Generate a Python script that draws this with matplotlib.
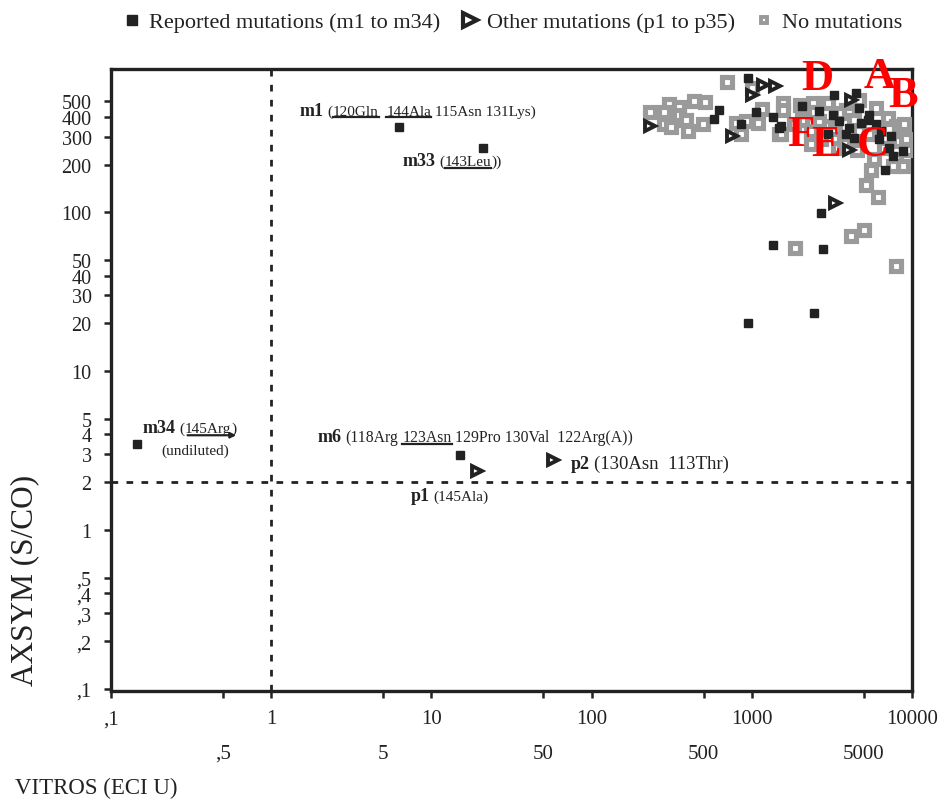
import matplotlib
matplotlib.use('Agg')
import matplotlib.pyplot as plt
import matplotlib.transforms as mtransforms
from matplotlib.lines import Line2D
from matplotlib.patches import FancyArrowPatch

SERIF = ['Liberation Serif', 'DejaVu Serif']
plt.rcParams['font.family'] = SERIF

# ---------------- data ----------------
# No mutations (grey open squares)
nomut_x = [700, 230, 303, 282, 350, 350, 435, 507, 282, 314, 390, 399, 495, 1005, 1161,
           800, 851, 923, 1090, 1561, 1474, 1561, 1985, 2403, 2979, 3881, 5970, 2644, 3612,
           4067, 7050, 4699, 7960, 8345, 9190, 7960, 8750, 7580, 5150, 3440, 3053, 2349,
           1525, 4371, 6110, 5000, 4170, 1866, 7910, 5420, 6730, 9360, 5820, 7230, 2720,
           3330, 2043, 3790, 4699, 2460, 2357, 5580, 8970, 4565, 1846]
nomut_y = [660, 428, 485, 428, 460, 413, 501, 494, 361, 344, 384, 325, 358, 609, 449,
           367, 310, 379, 367, 490, 310, 444, 478, 490, 490, 444, 455, 375, 424,
           424, 394, 325, 349, 281, 288, 216, 196, 196, 148, 255, 349, 325,
           310, 384, 125, 77, 71, 60, 46, 310, 256, 249, 216, 333, 288,
           333, 384, 268, 514, 432, 268, 186, 358, 249, 358]

# Reported mutations (black squares); first four are m1, m33, m34, m6
rep_x = [6.25, 20.9, 0.145, 15.0,
         944, 623, 577, 1055, 859, 1352, 1489, 3250, 4480, 2063, 2644, 3200, 4699, 3490,
         4067, 4817, 5290, 5970, 6420, 2979, 3881, 4371, 6260, 7410, 7230, 8750, 7580,
         6825, 1525, 5420, 2710, 2790, 1352, 2437, 950]
rep_y = [347, 256, 3.5, 2.96,
         703, 440, 388, 430, 361, 398, 341, 552, 566, 466, 434, 413, 455, 375,
         341, 367, 384, 358, 325, 310, 310, 295, 288, 302, 255, 243, 226,
         186, 349, 413, 99.6, 59, 62.6, 23.4, 20.0]

# Other mutations (open triangles); first two are p1, p2
other_x = [19.2, 57.1, 230, 1172, 1386, 1005, 755, 4170, 4067, 3330]
other_y = [2.35, 2.76, 349, 638, 623, 552, 305, 514, 249, 114]

# red cluster letters
letters = ['D', 'A', 'B', 'F', 'E', 'C']
letter_x = [2580, 6260, 8750, 2033, 2912, 5690]
letter_y = [703, 720, 552, 314, 268, 268]

# axis ticks
ytick_vals = [0.1, 0.2, 0.3, 0.4, 0.5, 1, 2, 3, 4, 5, 10, 20, 30, 40, 50, 100, 200, 300, 400, 500]
ytick_labels = [',1', ',2', ',3', ',4', ',5', '1', '2', '3', '4', '5', '10', '20', '30', '40', '50',
                '100', '200', '300', '400', '500']
xmajor_vals = [0.1, 1, 10, 100, 1000, 10000]
xmajor_labels = [',1', '1', '10', '100', '1000', '10000']
xminor_vals = [0.5, 5, 50, 500, 5000]
xminor_labels = [',5', '5', '50', '500', '5000']

# ---------------- figure ----------------
W, H = 942, 804
fig = plt.figure(figsize=(W / 100, H / 100), dpi=100)
ax = fig.add_axes([111 / W, 1 - 692 / H, 801 / W, 622 / H])
ax.set_xscale('log')
ax.set_yscale('log')
ax.set_xlim(0.1, 10000)
ax.set_ylim(0.097, 800)

K = '#222222'
GREY = '#9a9a9a'
for s in ax.spines.values():
    s.set_linewidth(2.4)
    s.set_color(K)

ax.set_yticks(ytick_vals)
ax.set_yticklabels(ytick_labels)
ax.yaxis.set_minor_locator(matplotlib.ticker.NullLocator())
ax.set_xticks(xmajor_vals)
ax.set_xticklabels(xmajor_labels)
ax.set_xticks(xminor_vals, minor=True)
ax.set_xticklabels(xminor_labels, minor=True)
ax.tick_params(axis='both', which='both', direction='out', length=5, width=1.8,
               color=K, labelsize=15, labelcolor='#222222')
ax.tick_params(axis='y', pad=9, labelsize=14.5)
ax.tick_params(axis='x', which='major', pad=8)
ax.tick_params(axis='x', which='minor', pad=33)

# reference lines
ax.axvline(1, color=K, lw=2, ls=(0, (2.4, 3.0)), zorder=1)
ax.axhline(2, color=K, lw=2, ls=(0, (2.4, 3.0)), zorder=1)

# points
ax.plot(nomut_x, nomut_y, 's', ls='none', ms=6.6, mfc='white', mec=GREY, mew=3.7, zorder=3)
ax.plot(rep_x, rep_y, 's', ls='none', ms=5.8, color=K, zorder=4)
ax.plot(other_x, other_y, '>', ls='none', ms=7.5, mfc='white', mec=K, mew=2.8, zorder=5)

for L, lx, ly in zip(letters, letter_x, letter_y):
    ax.text(lx, ly, L, color='#ff0000', fontsize=32, fontweight='bold', ha='center', va='center',
            clip_on=False, zorder=7)

# ---------------- rich annotations ----------------
renderer = fig.canvas.get_renderer()


def rich(x, y, pieces):
    """pieces: (text, size, weight, deco) with deco in {None, 'u', 'arrow'}"""
    dx = 0.0
    base = ax.transData.transform((x, y))
    for txt, size, weight, deco in pieces:
        lead = len(txt) - len(txt.lstrip(' '))
        trail = len(txt) - len(txt.rstrip(' '))
        core = txt.strip(' ')
        dx += lead * 0.25 * size * 100 / 72
        tr = ax.transData + mtransforms.ScaledTranslation(dx / 100, 0, fig.dpi_scale_trans)
        t = ax.text(x, y, core, transform=tr, fontsize=size, fontweight=weight, color=K,
                    ha='left', va='baseline', clip_on=False, zorder=6)
        bb = t.get_window_extent(renderer=renderer)
        if deco == 'u':
            fig.add_artist(Line2D([bb.x0 / W, bb.x1 / W], [(base[1] - 2.5) / H] * 2,
                                  color=K, lw=1.6, transform=fig.transFigure))
        elif deco == 'arrow':
            fig.add_artist(FancyArrowPatch((bb.x0 / W, (base[1] - 3) / H),
                                           ((bb.x1 + 8) / W, (base[1] - 3) / H),
                                           arrowstyle='-|>', mutation_scale=8, lw=1.6,
                                           color=K, transform=fig.transFigure))
        dx += bb.width + trail * 0.25 * size * 100 / 72


BS, RS = 13, 11
rich(1.51, 413, [('m1', BS, 'bold', None), (' (', RS, 'normal', None),
                 ('120Gln', RS, 'normal', 'u'), (' ', RS, 'normal', None),
                 ('144Ala', RS, 'normal', 'u'), (' 115Asn 131Lys)', RS, 'normal', None)])
rich(6.62, 198, [('m33', BS, 'bold', None), (' (', RS, 'normal', None),
                 ('143Leu', RS, 'normal', 'u'), ('))', RS, 'normal', None)])
rich(0.158, 4.13, [('m34', BS, 'bold', None), (' (', RS, 'normal', None),
                   ('145Arg', RS, 'normal', 'arrow'), (')', RS, 'normal', None)])
rich(0.205, 3.0, [('(undiluted)', RS, 'normal', None)])
rich(1.95, 3.63, [('m6', BS, 'bold', None), (' (118Arg ', 11.3, 'normal', None),
                  ('123Asn', 11.3, 'normal', 'u'),
                  (' 129Pro 130Val  122Arg(A))', 11.3, 'normal', None)])
rich(74, 2.45, [('p2', BS, 'bold', None), (' (130Asn  113Thr)', 13.5, 'normal', None)])
rich(7.43, 1.545, [('p1', BS, 'bold', None), (' (145Ala)', RS, 'normal', None)])

# ---------------- axis titles ----------------
fig.text(15 / W, 1 - 788 / H, 'VITROS (ECI U)', fontsize=16.5, color=K, ha='left', va='center')
fig.text(25 / W, 1 - 580 / H, 'AXSYM (S/CO)', fontsize=22.5, color=K, rotation=90,
         ha='center', va='center')

# ---------------- legend ----------------
handles = [Line2D([], [], marker='s', ls='none', color=K, ms=7),
           Line2D([], [], marker='>', ls='none', mfc='white', mec=K, mew=3, ms=9.5),
           Line2D([], [], marker='s', ls='none', mfc='white', mec=GREY, mew=2.8, ms=5)]
labels = ['Reported mutations (m1 to m34)', 'Other mutations (p1 to p35)', 'No mutations']
fig.legend(handles, labels, loc='upper center', bbox_to_anchor=(0.543, 1.009), ncol=3,
           frameon=False, fontsize=16, handletextpad=0.3, columnspacing=0.8,
           handlelength=1.0, labelcolor=K)

fig.savefig('out.png', dpi=100)
